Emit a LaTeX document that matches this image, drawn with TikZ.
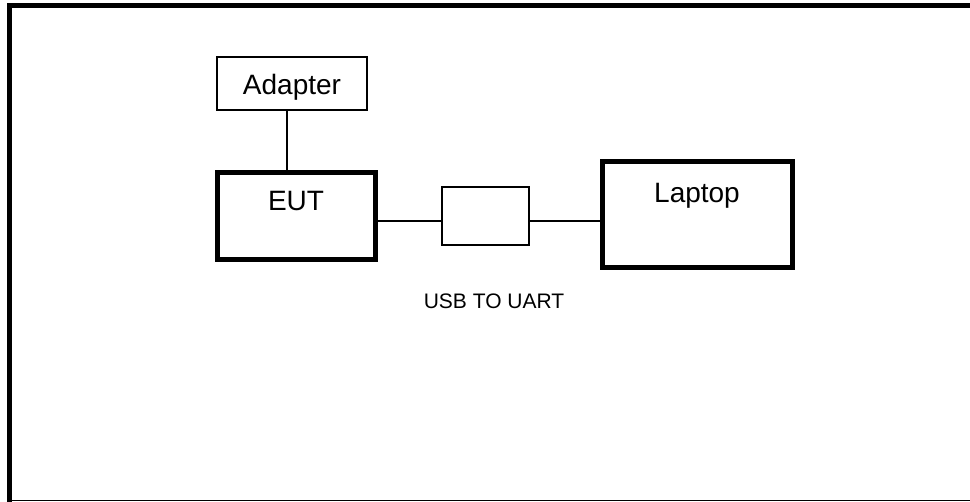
\documentclass[tikz,border=0pt]{standalone}
\usepackage{fontspec}
\setmainfont{Liberation Sans}
\usetikzlibrary{positioning}
\tikzset{
  thinbox/.style={draw, line width=1.3pt, inner sep=0pt, outer sep=0pt},
  thickbox/.style={draw, line width=5pt, inner sep=0pt, outer sep=0pt},
  wire/.style={line width=1.3pt}
}
\begin{document}
\begin{tikzpicture}[x=1pt,y=-1pt]
    \useasboundingbox (0,0) rectangle (970,502);
    % frame
    \draw [line width=5pt] (975,5.5)--(9.5,5.5)--(9.5,505);
    \draw [line width=1.5pt] (7,500.5)--(975,500.5);
    % boxes
    \node [thinbox, anchor=north west, minimum width=150pt,
           text height=38pt, text depth=15pt,
           font=\fontsize{28}{32}\selectfont] (adapter) at (217,57) {Adapter};
    \node [thickbox, anchor=north west, minimum width=158pt,
           text height=38pt, text depth=49pt,
           font=\fontsize{28}{32}\selectfont] (eut) at (217,173) {EUT};
    \node [thinbox, anchor=north west, minimum width=87pt, minimum height=58pt] (usb) at (442,187) {};
    \node [thickbox, anchor=north west, minimum width=190pt,
           text height=41pt, text depth=65pt,
           font=\fontsize{28}{32}\selectfont] (laptop) at (602,162) {Laptop};
    \node [font=\fontsize{21}{24}\selectfont] (usblabel) at (494,301) {USB TO UART};
    % wires
    \draw [wire] ([xshift=-5pt]adapter.south)--([xshift=-5pt]adapter.south |- eut.north);
    \coordinate (usbin) at ([yshift=-5pt]usb.west);
    \coordinate (usbout) at ([yshift=-5pt]usb.east);
    \draw [wire] (eut.east |- usbin)--(usbin);
    \draw [wire] (usbout)--(laptop.west |- usbout);
\end{tikzpicture}
\end{document}
